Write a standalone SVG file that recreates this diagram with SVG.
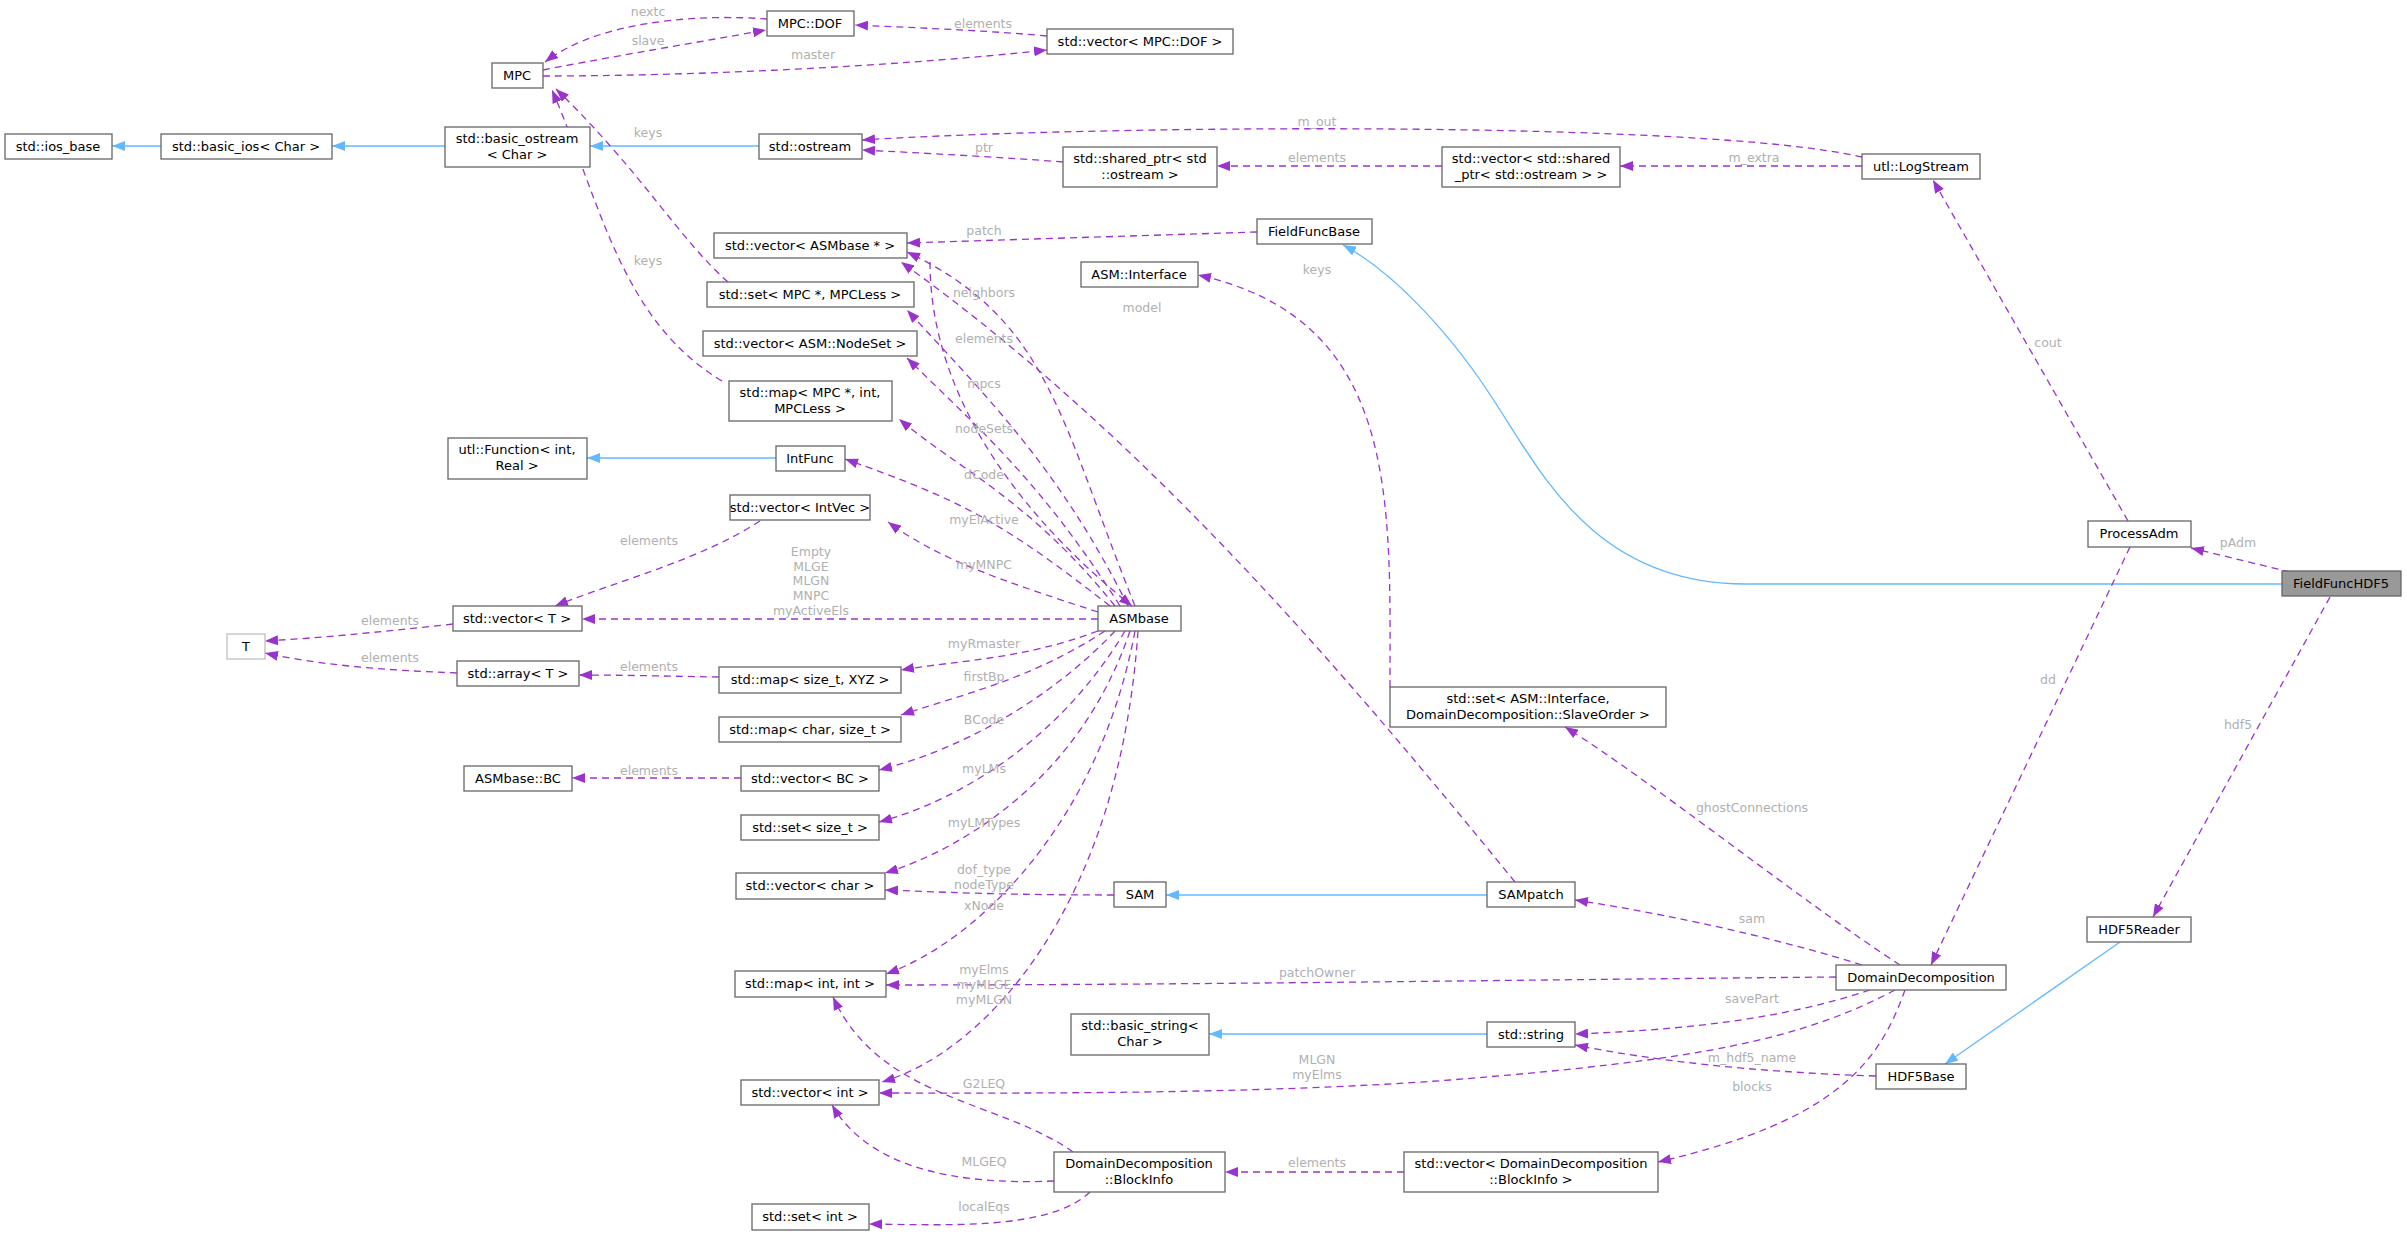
<svg xmlns="http://www.w3.org/2000/svg" width="2407" height="1235" viewBox="0 0 2407 1235">
<style>
.n rect{fill:#fff;stroke:#666;stroke-width:1.3}
.n text,.t{font-family:"DejaVu Sans",sans-serif;font-size:13px;fill:#000;text-anchor:middle}
.l{font-family:"DejaVu Sans",sans-serif;font-size:12.5px;fill:#b0b0b0;text-anchor:middle}
.d{fill:none;stroke:#9a32cd;stroke-width:1.3;stroke-dasharray:7,5;marker-end:url(#ap)}
.i{fill:none;stroke:#63b8ff;stroke-width:1.3;marker-end:url(#ab)}
</style>
<defs>
<marker id="ap" markerWidth="14" markerHeight="10" refX="13" refY="5" orient="auto" markerUnits="userSpaceOnUse"><path d="M0,0 L13,5 L0,10 z" fill="#9a32cd"/></marker>
<marker id="ab" markerWidth="14" markerHeight="10" refX="13" refY="5" orient="auto" markerUnits="userSpaceOnUse"><path d="M0,0 L13,5 L0,10 z" fill="#63b8ff"/></marker>
</defs>
<rect width="2407" height="1235" fill="#fff"/>
<g id="edges">
<path class="i" d="M161,146 L112,146"/>
<path class="i" d="M445,146 L332,146"/>
<path class="i" d="M759,146 L590,146"/>
<path class="i" d="M776,458 L587,458"/>
<path class="i" d="M1487,895 L1166,895"/>
<path class="i" d="M1487,1034 L1209,1034"/>
<path class="i" d="M2120,942 L1945,1064"/>
<path class="i" d="M2282,584 L1745,584 C1600,584 1545,480 1500,410 C1450,330 1390,270 1343,245"/>
<path class="d" d="M767,19 C700,14 600,20 545,62"/>
<path class="d" d="M543,70 C620,55 700,42 766,30"/>
<path class="d" d="M543,76 C700,76 900,66 1047,50"/>
<path class="d" d="M1047,36 C980,30 920,28 855,25"/>
<path class="d" d="M728,282 C680,240 640,170 556,89"/>
<path class="d" d="M722,381 C620,320 600,200 552,90"/>
<path class="d" d="M1862,157 C1700,120 1100,125 862,140"/>
<path class="d" d="M1063,162 C1000,157 920,153 862,150"/>
<path class="d" d="M1442,166 L1217,166"/>
<path class="d" d="M1862,166 L1620,166"/>
<path class="d" d="M2128,521 L1933,180"/>
<path class="d" d="M2290,572 L2191,548"/>
<path class="d" d="M2130,547 L1931,965"/>
<path class="d" d="M2330,597 L2153,917"/>
<path class="d" d="M1257,232 C1130,236 1000,240 907,243"/>
<path class="d" d="M1135,606 C1060,420 1050,320 907,252"/>
<path class="d" d="M930,262 C930,380 1000,500 1132,606"/>
<path class="d" d="M1515,882 C1350,680 1150,440 901,262"/>
<path class="d" d="M1128,606 C1060,470 990,400 907,310"/>
<path class="d" d="M1120,606 C1040,480 980,430 907,358"/>
<path class="d" d="M1115,606 C1030,500 960,470 899,419"/>
<path class="d" d="M1110,606 C1000,520 960,500 845,459"/>
<path class="d" d="M1098,612 C1000,580 940,560 888,522"/>
<path class="d" d="M1098,619 L582,619"/>
<path class="d" d="M1098,631 C1020,660 960,660 901,670"/>
<path class="d" d="M1105,631 C1030,680 960,695 901,715"/>
<path class="d" d="M1115,631 C1050,700 960,750 879,770"/>
<path class="d" d="M1125,631 C1060,740 960,800 879,822"/>
<path class="d" d="M1130,631 C1080,780 960,850 885,873"/>
<path class="d" d="M1135,631 C1100,820 980,940 886,974"/>
<path class="d" d="M1138,631 C1120,900 990,1050 882,1082"/>
<path class="d" d="M453,624 C380,632 320,638 265,641"/>
<path class="d" d="M457,673 C380,670 320,665 265,653"/>
<path class="d" d="M760,521 C700,560 620,580 555,606"/>
<path class="d" d="M719,677 C660,676 620,675 579,675"/>
<path class="d" d="M741,778 L572,778"/>
<path class="d" d="M1114,895 C1000,895 940,892 885,890"/>
<path class="d" d="M1900,965 C1800,900 1650,780 1565,727"/>
<path class="d" d="M1390,687 C1390,500 1400,320 1198,275"/>
<path class="d" d="M1862,965 C1750,930 1640,910 1575,900"/>
<path class="d" d="M1836,977 C1500,980 1200,985 886,985"/>
<path class="d" d="M1870,990 C1780,1020 1680,1030 1575,1034"/>
<path class="d" d="M1895,990 C1800,1040 1700,1060 1450,1080 C1250,1095 1000,1093 879,1093"/>
<path class="d" d="M1905,990 C1880,1060 1840,1120 1658,1162"/>
<path class="d" d="M1876,1076 C1750,1072 1650,1060 1575,1045"/>
<path class="d" d="M1404,1172 L1225,1172"/>
<path class="d" d="M1073,1152 C1000,1100 880,1100 833,997"/>
<path class="d" d="M1054,1181 C960,1185 870,1170 832,1105"/>
<path class="d" d="M1090,1192 C1050,1230 950,1225 869,1224"/>
</g>
<g id="labels">
<text class="l" x="648" y="16">nextc</text>
<text class="l" x="648" y="45">slave</text>
<text class="l" x="813" y="59">master</text>
<text class="l" x="983" y="28">elements</text>
<text class="l" x="648" y="137">keys</text>
<text class="l" x="648" y="265">keys</text>
<text class="l" x="1317" y="126">m_out</text>
<text class="l" x="984" y="152">ptr</text>
<text class="l" x="1317" y="162">elements</text>
<text class="l" x="1754" y="162">m_extra</text>
<text class="l" x="2048" y="347">cout</text>
<text class="l" x="2238" y="547">pAdm</text>
<text class="l" x="2048" y="684">dd</text>
<text class="l" x="2238" y="729">hdf5</text>
<text class="l" x="984" y="235">patch</text>
<text class="l" x="984" y="297">neighbors</text>
<text class="l" x="1142" y="312">model</text>
<text class="l" x="984" y="343">elements</text>
<text class="l" x="984" y="388">mpcs</text>
<text class="l" x="984" y="433">nodeSets</text>
<text class="l" x="984" y="479">dCode</text>
<text class="l" x="984" y="524">myElActive</text>
<text class="l" x="984" y="569">myMNPC</text>
<text class="l" x="811" y="556">Empty</text>
<text class="l" x="811" y="571">MLGE</text>
<text class="l" x="811" y="585">MLGN</text>
<text class="l" x="811" y="600">MNPC</text>
<text class="l" x="811" y="615">myActiveEls</text>
<text class="l" x="984" y="648">myRmaster</text>
<text class="l" x="984" y="681">firstBp</text>
<text class="l" x="984" y="724">BCode</text>
<text class="l" x="984" y="773">myLMs</text>
<text class="l" x="984" y="827">myLMTypes</text>
<text class="l" x="984" y="874">dof_type</text>
<text class="l" x="984" y="889">nodeType</text>
<text class="l" x="984" y="910">xNode</text>
<text class="l" x="984" y="974">myElms</text>
<text class="l" x="984" y="989">myMLGE</text>
<text class="l" x="984" y="1004">myMLGN</text>
<text class="l" x="984" y="1088">G2LEQ</text>
<text class="l" x="984" y="1166">MLGEQ</text>
<text class="l" x="984" y="1211">localEqs</text>
<text class="l" x="390" y="625">elements</text>
<text class="l" x="390" y="662">elements</text>
<text class="l" x="649" y="545">elements</text>
<text class="l" x="649" y="671">elements</text>
<text class="l" x="649" y="775">elements</text>
<text class="l" x="1317" y="274">keys</text>
<text class="l" x="1752" y="812">ghostConnections</text>
<text class="l" x="1752" y="923">sam</text>
<text class="l" x="1317" y="977">patchOwner</text>
<text class="l" x="1752" y="1003">savePart</text>
<text class="l" x="1317" y="1064">MLGN</text>
<text class="l" x="1317" y="1079">myElms</text>
<text class="l" x="1752" y="1091">blocks</text>
<text class="l" x="1752" y="1062">m_hdf5_name</text>
<text class="l" x="1317" y="1167">elements</text>
</g>
<g id="ios_base" class="n"><rect x="5" y="134" width="107" height="25"/><text x="58" y="151">std::ios_base</text></g>
<g id="basic_ios" class="n"><rect x="161" y="134" width="171" height="25"/><text x="246" y="151">std::basic_ios&lt; Char &gt;</text></g>
<g id="basic_ostream" class="n"><rect x="445" y="127" width="145" height="40"/><text x="517" y="143">std::basic_ostream</text><text x="517" y="159">&lt; Char &gt;</text></g>
<g id="MPC" class="n"><rect x="492" y="63" width="51" height="25"/><text x="517" y="80">MPC</text></g>
<g id="MPC_DOF" class="n"><rect x="767" y="11" width="87" height="25"/><text x="810" y="28">MPC::DOF</text></g>
<g id="vec_dof" class="n"><rect x="1047" y="29" width="186" height="25"/><text x="1140" y="46">std::vector&lt; MPC::DOF &gt;</text></g>
<g id="ostream" class="n"><rect x="759" y="134" width="103" height="25"/><text x="810" y="151">std::ostream</text></g>
<g id="shared_ptr" class="n"><rect x="1063" y="147" width="154" height="40"/><text x="1140" y="163">std::shared_ptr&lt; std</text><text x="1140" y="179">::ostream &gt;</text></g>
<g id="vec_shared" class="n"><rect x="1442" y="147" width="178" height="40"/><text x="1531" y="163">std::vector&lt; std::shared</text><text x="1531" y="179">_ptr&lt; std::ostream &gt; &gt;</text></g>
<g id="LogStream" class="n"><rect x="1862" y="154" width="118" height="25"/><text x="1921" y="171">utl::LogStream</text></g>
<g id="FieldFuncBase" class="n"><rect x="1257" y="219" width="115" height="25"/><text x="1314" y="236">FieldFuncBase</text></g>
<g id="vec_asmbase" class="n"><rect x="714" y="233" width="193" height="25"/><text x="810" y="250">std::vector&lt; ASMbase * &gt;</text></g>
<g id="Interface" class="n"><rect x="1081" y="262" width="117" height="25"/><text x="1139" y="279">ASM::Interface</text></g>
<g id="set_mpc" class="n"><rect x="707" y="282" width="207" height="25"/><text x="810" y="299">std::set&lt; MPC *, MPCLess &gt;</text></g>
<g id="vec_nodeset" class="n"><rect x="703" y="331" width="214" height="25"/><text x="810" y="348">std::vector&lt; ASM::NodeSet &gt;</text></g>
<g id="map_mpc" class="n"><rect x="729" y="381" width="163" height="40"/><text x="810" y="397">std::map&lt; MPC *, int,</text><text x="810" y="413">MPCLess &gt;</text></g>
<g id="Function" class="n"><rect x="448" y="438" width="139" height="41"/><text x="517" y="454">utl::Function&lt; int,</text><text x="517" y="470">Real &gt;</text></g>
<g id="IntFunc" class="n"><rect x="776" y="446" width="69" height="25"/><text x="810" y="463">IntFunc</text></g>
<g id="vec_intvec" class="n"><rect x="730" y="495" width="140" height="25"/><text x="800" y="512">std::vector&lt; IntVec &gt;</text></g>
<g id="ProcessAdm" class="n"><rect x="2088" y="521" width="103" height="26"/><text x="2139" y="538">ProcessAdm</text></g>
<g id="FieldFuncHDF5" class="n"><rect x="2282" y="571" width="119" height="25" style="fill:#999"/><text x="2341" y="588">FieldFuncHDF5</text></g>
<g id="vec_T" class="n"><rect x="453" y="606" width="129" height="25"/><text x="517" y="623">std::vector&lt; T &gt;</text></g>
<g id="ASMbase" class="n"><rect x="1098" y="606" width="83" height="25"/><text x="1139" y="623">ASMbase</text></g>
<g id="T" class="n"><rect x="227" y="634" width="38" height="25" style="stroke:#bfbfbf"/><text x="246" y="651">T</text></g>
<g id="array_T" class="n"><rect x="457" y="661" width="122" height="25"/><text x="518" y="678">std::array&lt; T &gt;</text></g>
<g id="map_xyz" class="n"><rect x="719" y="667" width="182" height="26"/><text x="810" y="684">std::map&lt; size_t, XYZ &gt;</text></g>
<g id="SlaveOrder" class="n"><rect x="1390" y="687" width="276" height="40"/><text x="1528" y="703">std::set&lt; ASM::Interface,</text><text x="1528" y="719">DomainDecomposition::SlaveOrder &gt;</text></g>
<g id="map_char" class="n"><rect x="719" y="717" width="182" height="25"/><text x="810" y="734">std::map&lt; char, size_t &gt;</text></g>
<g id="BC" class="n"><rect x="464" y="766" width="108" height="25"/><text x="518" y="783">ASMbase::BC</text></g>
<g id="vec_BC" class="n"><rect x="741" y="766" width="138" height="25"/><text x="810" y="783">std::vector&lt; BC &gt;</text></g>
<g id="set_size" class="n"><rect x="741" y="815" width="138" height="25"/><text x="810" y="832">std::set&lt; size_t &gt;</text></g>
<g id="vec_char" class="n"><rect x="736" y="873" width="149" height="26"/><text x="810" y="890">std::vector&lt; char &gt;</text></g>
<g id="SAM" class="n"><rect x="1114" y="882" width="52" height="25"/><text x="1140" y="899">SAM</text></g>
<g id="SAMpatch" class="n"><rect x="1487" y="882" width="88" height="25"/><text x="1531" y="899">SAMpatch</text></g>
<g id="HDF5Reader" class="n"><rect x="2087" y="917" width="104" height="25"/><text x="2139" y="934">HDF5Reader</text></g>
<g id="DomainDecomposition" class="n"><rect x="1836" y="965" width="170" height="25"/><text x="1921" y="982">DomainDecomposition</text></g>
<g id="map_int" class="n"><rect x="735" y="971" width="151" height="26"/><text x="810" y="988">std::map&lt; int, int &gt;</text></g>
<g id="basic_string" class="n"><rect x="1071" y="1014" width="138" height="41"/><text x="1140" y="1030">std::basic_string&lt;</text><text x="1140" y="1046">Char &gt;</text></g>
<g id="string" class="n"><rect x="1487" y="1022" width="88" height="25"/><text x="1531" y="1039">std::string</text></g>
<g id="HDF5Base" class="n"><rect x="1876" y="1064" width="90" height="25"/><text x="1921" y="1081">HDF5Base</text></g>
<g id="vec_int" class="n"><rect x="741" y="1080" width="138" height="25"/><text x="810" y="1097">std::vector&lt; int &gt;</text></g>
<g id="BlockInfo" class="n"><rect x="1054" y="1152" width="171" height="40"/><text x="1139" y="1168">DomainDecomposition</text><text x="1139" y="1184">::BlockInfo</text></g>
<g id="vec_blockinfo" class="n"><rect x="1404" y="1152" width="254" height="40"/><text x="1531" y="1168">std::vector&lt; DomainDecomposition</text><text x="1531" y="1184">::BlockInfo &gt;</text></g>
<g id="set_int" class="n"><rect x="752" y="1204" width="117" height="26"/><text x="810" y="1221">std::set&lt; int &gt;</text></g>
</svg>
